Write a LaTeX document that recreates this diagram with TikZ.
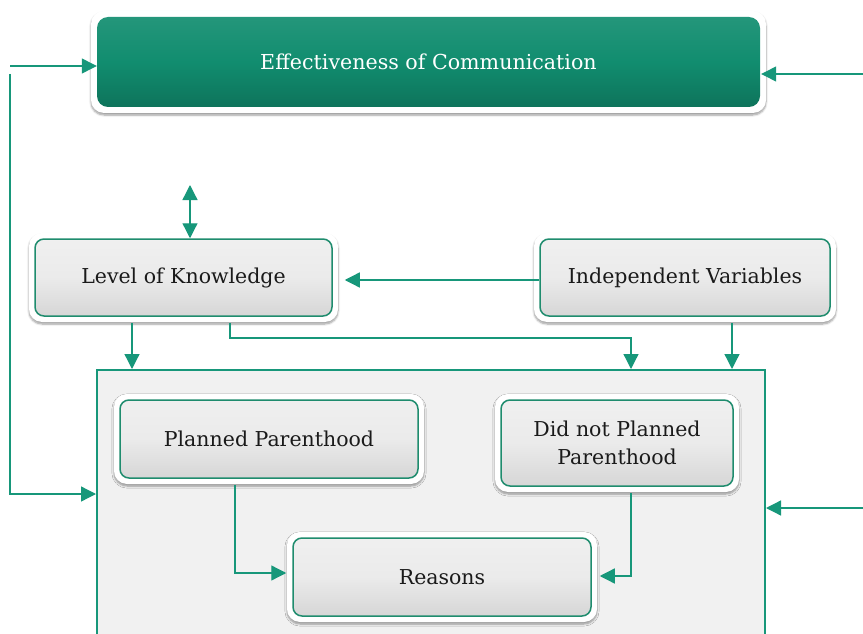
\documentclass[tikz,border=0pt]{standalone}
\usepackage{fontspec}
\setmainfont{DejaVu Serif}
\usetikzlibrary{arrows.meta,shadows.blur,calc}
\definecolor{grn}{HTML}{17977A}
\definecolor{bordg}{HTML}{1F8C6E}
\definecolor{topg}{HTML}{118D6F}
\definecolor{bigfill}{HTML}{F1F1F1}
\definecolor{txt}{HTML}{1A1A1A}
\tikzset{
  arr/.style={draw=grn, line width=1.3pt, -{Triangle[length=15pt,width=15pt]}},
  arrtwo/.style={draw=grn, line width=1.3pt, {Triangle[length=15pt,width=15pt]}-{Triangle[length=15pt,width=15pt]}},
  inbox/.style={rounded corners=9pt, draw=bordg, line width=1.5pt,
    top color=white!94!black, bottom color=white!84!black, middle color=white!92!black,
    text=txt, font=\fontsize{20.5}{28}\selectfont, align=center, inner sep=0pt},
  outring/.style={fill=white, rounded corners=13pt, blur shadow={shadow blur steps=6, shadow xshift=0pt, shadow yshift=-2pt, shadow opacity=40}},
  topbox/.style={rounded corners=11pt, draw=none,
    top color=topg!92!white, bottom color=topg!82!black, middle color=topg,
    text=white, font=\fontsize{20.6}{26}\selectfont, inner sep=0pt},
  bigbox/.style={draw=grn, line width=2pt, fill=bigfill, inner sep=0pt}
}
\newcommand{\ringat}[4]{\path[outring] ({#1-#3/2-6},{#2-#4/2-6}) rectangle ({#1+#3/2+6},{#2+#4/2+6});}
\begin{document}
\begin{tikzpicture}[x=1pt,y=-1pt]
\useasboundingbox (0,0) rectangle (863,634);
\clip (0,0) rectangle (863,634);
% big container
\node[bigbox, minimum width=668pt, minimum height=300pt] (big) at (431,520) {};
% top box
\ringat{428.5}{62}{663}{90}
\node[topbox, minimum width=663pt, minimum height=90pt] (top) at (428.5,62) {Effectiveness of Communication};
% level of knowledge
\ringat{183.5}{277.5}{297}{77}
\node[inbox, minimum width=297pt, minimum height=77pt] (lk) at (183.5,277.5) {Level of Knowledge};
% independent variables
\ringat{685}{277.5}{290}{77}
\node[inbox, minimum width=290pt, minimum height=77pt] (iv) at (685,277.5) {Independent Variables};
% planned parenthood
\ringat{269}{439}{298}{78}
\node[inbox, minimum width=298pt, minimum height=78pt] (pp) at (269,439) {Planned Parenthood};
% did not planned
\ringat{617}{443}{232}{86}
\node[inbox, minimum width=232pt, minimum height=86pt] (dn) at (617,443) {Did not Planned\\Parenthood};
% reasons
\ringat{442}{577}{298}{78}
\node[inbox, minimum width=298pt, minimum height=78pt] (rs) at (442,577) {Reasons};
% coordinates
\coordinate (La) at (10,66);
\coordinate (Lb) at (10,74);
\coordinate (Lc) at (10,494);
\coordinate (Ra) at (863,74);
\coordinate (Rb) at (863,508);
\coordinate (Da) at (190,185);
\coordinate (Ya) at (0,280);
\coordinate (Xa) at (132,0);
\coordinate (Xb) at (230,338);
\coordinate (Xc) at (631,338);
\coordinate (Xd) at (732,0);
\coordinate (Pa) at (235,573);
\coordinate (Qa) at (631,576);
% connectors
\draw[arr] (La) -- (La -| top.west);
\draw[arr] (Ra) -- ([xshift=1pt]Ra -| top.east);
\draw[arr] (Lb) -- (Lc) -- (Lc -| big.west);
\draw[arr] (Rb) -- (Rb -| big.east);
\draw[arrtwo] (Da) -- (Da |- lk.north);
\draw[arr] (Ya -| iv.west) -- ([xshift=12pt]Ya -| lk.east);
\draw[arr] ([yshift=-6pt]Xa |- lk.south) -- (Xa |- big.north);
\draw[arr] ([yshift=-6pt]Xb |- lk.south) -- (Xb) -- (Xc) -- (Xc |- big.north);
\draw[arr] ([yshift=-6pt]Xd |- iv.south) -- (Xd |- big.north);
\draw[arr] ([yshift=-6pt]Pa |- pp.south) -- (Pa) -- ([xshift=-6pt]Pa -| rs.west);
\draw[arr] ([yshift=-6pt]Qa |- dn.south) -- (Qa) -- ([xshift=8pt]Qa -| rs.east);
\end{tikzpicture}
\end{document}
